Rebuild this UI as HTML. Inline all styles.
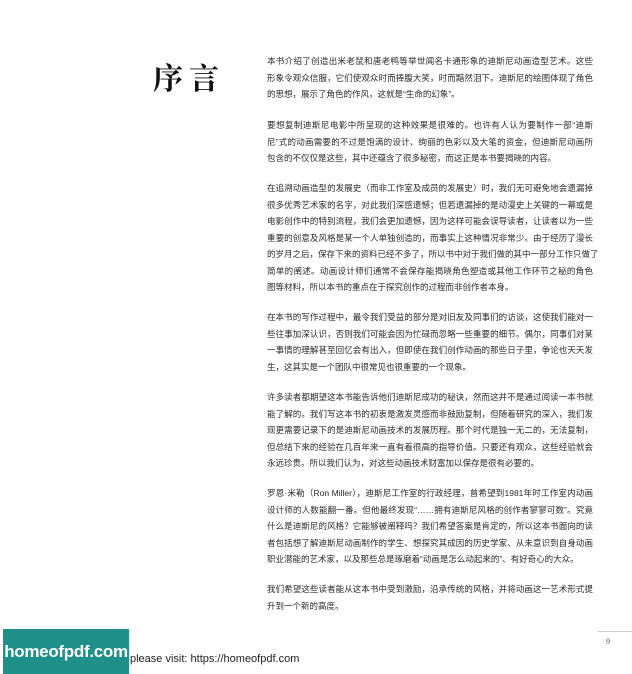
<!DOCTYPE html>
<html><head><meta charset="utf-8">
<style>
html,body{margin:0;padding:0;background:#fff;}
body{width:632px;height:674px;position:relative;overflow:hidden;font-family:"Liberation Sans","Noto Sans CJK SC",sans-serif;}
.title{position:absolute;left:153px;top:54px;font-family:"Liberation Serif","Noto Serif CJK SC",serif;font-weight:bold;font-size:30px;letter-spacing:6px;color:#111;}
.p{position:absolute;left:267px;width:326px;font-size:8.5px;line-height:16.5px;color:#2a2a2a;}
.p div{white-space:nowrap;text-align:justify;text-align-last:justify;}
.p div.last{text-align-last:left;}
.foot{position:absolute;left:3px;top:629px;width:126px;height:45px;background:#1f9089;color:#fff;font-weight:bold;font-size:17px;line-height:45px;text-align:center;letter-spacing:-0.3px;}
.visit{position:absolute;left:130px;top:653px;font-size:11px;color:#222;}
.pn{position:absolute;left:606px;top:637px;font-size:8px;color:#555;font-family:"Liberation Serif",serif;}
.rule{position:absolute;left:598px;top:631px;width:34px;height:1px;background:#ccc;}
</style></head><body>
<div class="title">序言</div>

<div class="p" style="top:53px">
<div>本书介绍了创造出米老鼠和唐老鸭等举世闻名卡通形象的迪斯尼动画造型艺术。这些</div>
<div>形象令观众信服，它们使观众时而捧腹大笑，时而黯然泪下。迪斯尼的绘图体现了角色</div>
<div class="last">的思想，展示了角色的作风，这就是“生命的幻象”。</div>
</div>

<div class="p" style="top:117px">
<div>要想复制迪斯尼电影中所呈现的这种效果是很难的。也许有人认为要制作一部“迪斯</div>
<div>尼”式的动画需要的不过是饱满的设计、绚丽的色彩以及大笔的资金，但迪斯尼动画所</div>
<div class="last">包含的不仅仅是这些，其中还蕴含了很多秘密，而这正是本书要揭晓的内容。</div>
</div>

<div class="p" style="top:180px">
<div>在追溯动画造型的发展史（而非工作室及成员的发展史）时，我们无可避免地会遗漏掉</div>
<div>很多优秀艺术家的名字，对此我们深感遗憾；但若遗漏掉的是动漫史上关键的一幕或是</div>
<div>电影创作中的特别流程，我们会更加遗憾，因为这样可能会误导读者，让读者以为一些</div>
<div>重要的创意及风格是某一个人单独创造的，而事实上这种情况非常少。由于经历了漫长</div>
<div>的岁月之后，保存下来的资料已经不多了，所以书中对于我们做的其中一部分工作只做了</div>
<div>简单的阐述。动画设计师们通常不会保存能揭晓角色塑造或其他工作环节之秘的角色</div>
<div class="last">图等材料，所以本书的重点在于探究创作的过程而非创作者本身。</div>
</div>

<div class="p" style="top:309px">
<div>在本书的写作过程中，最令我们受益的部分是对旧友及同事们的访谈，这使我们能对一</div>
<div>些往事加深认识，否则我们可能会因为忙碌而忽略一些重要的细节。偶尔，同事们对某</div>
<div>一事情的理解甚至回忆会有出入，但即使在我们创作动画的那些日子里，争论也天天发</div>
<div class="last">生，这其实是一个团队中很常见也很重要的一个现象。</div>
</div>

<div class="p" style="top:389px">
<div>许多读者都期望这本书能告诉他们迪斯尼成功的秘诀，然而这并不是通过阅读一本书就</div>
<div>能了解的。我们写这本书的初衷是激发灵感而非鼓励复制，但随着研究的深入，我们发</div>
<div>现更需要记录下的是迪斯尼动画技术的发展历程。那个时代是独一无二的，无法复制，</div>
<div>但总结下来的经验在几百年来一直有着很高的指导价值。只要还有观众，这些经验就会</div>
<div class="last">永远珍贵。所以我们认为，对这些动画技术财富加以保存是很有必要的。</div>
</div>

<div class="p" style="top:485px">
<div>罗恩·米勒（Ron Miller），迪斯尼工作室的行政经理，曾希望到1981年时工作室内动画</div>
<div>设计师的人数能翻一番。但他最终发现“……拥有迪斯尼风格的创作者寥寥可数”。究竟</div>
<div>什么是迪斯尼的风格？它能够被阐释吗？我们希望答案是肯定的，所以这本书面向的读</div>
<div>者包括想了解迪斯尼动画制作的学生、想探究其成因的历史学家、从未意识到自身动画</div>
<div class="last">职业潜能的艺术家，以及那些总是琢磨着“动画是怎么动起来的”、有好奇心的大众。</div>
</div>

<div class="p" style="top:581px">
<div>我们希望这些读者能从这本书中受到激励，沿承传统的风格，并将动画这一艺术形式提</div>
<div class="last">升到一个新的高度。</div>
</div>

<div class="rule"></div>
<div class="pn">9</div>
<div class="foot">homeofpdf.com</div>
<div class="visit">please visit: https://homeofpdf.com</div>
</body></html>
